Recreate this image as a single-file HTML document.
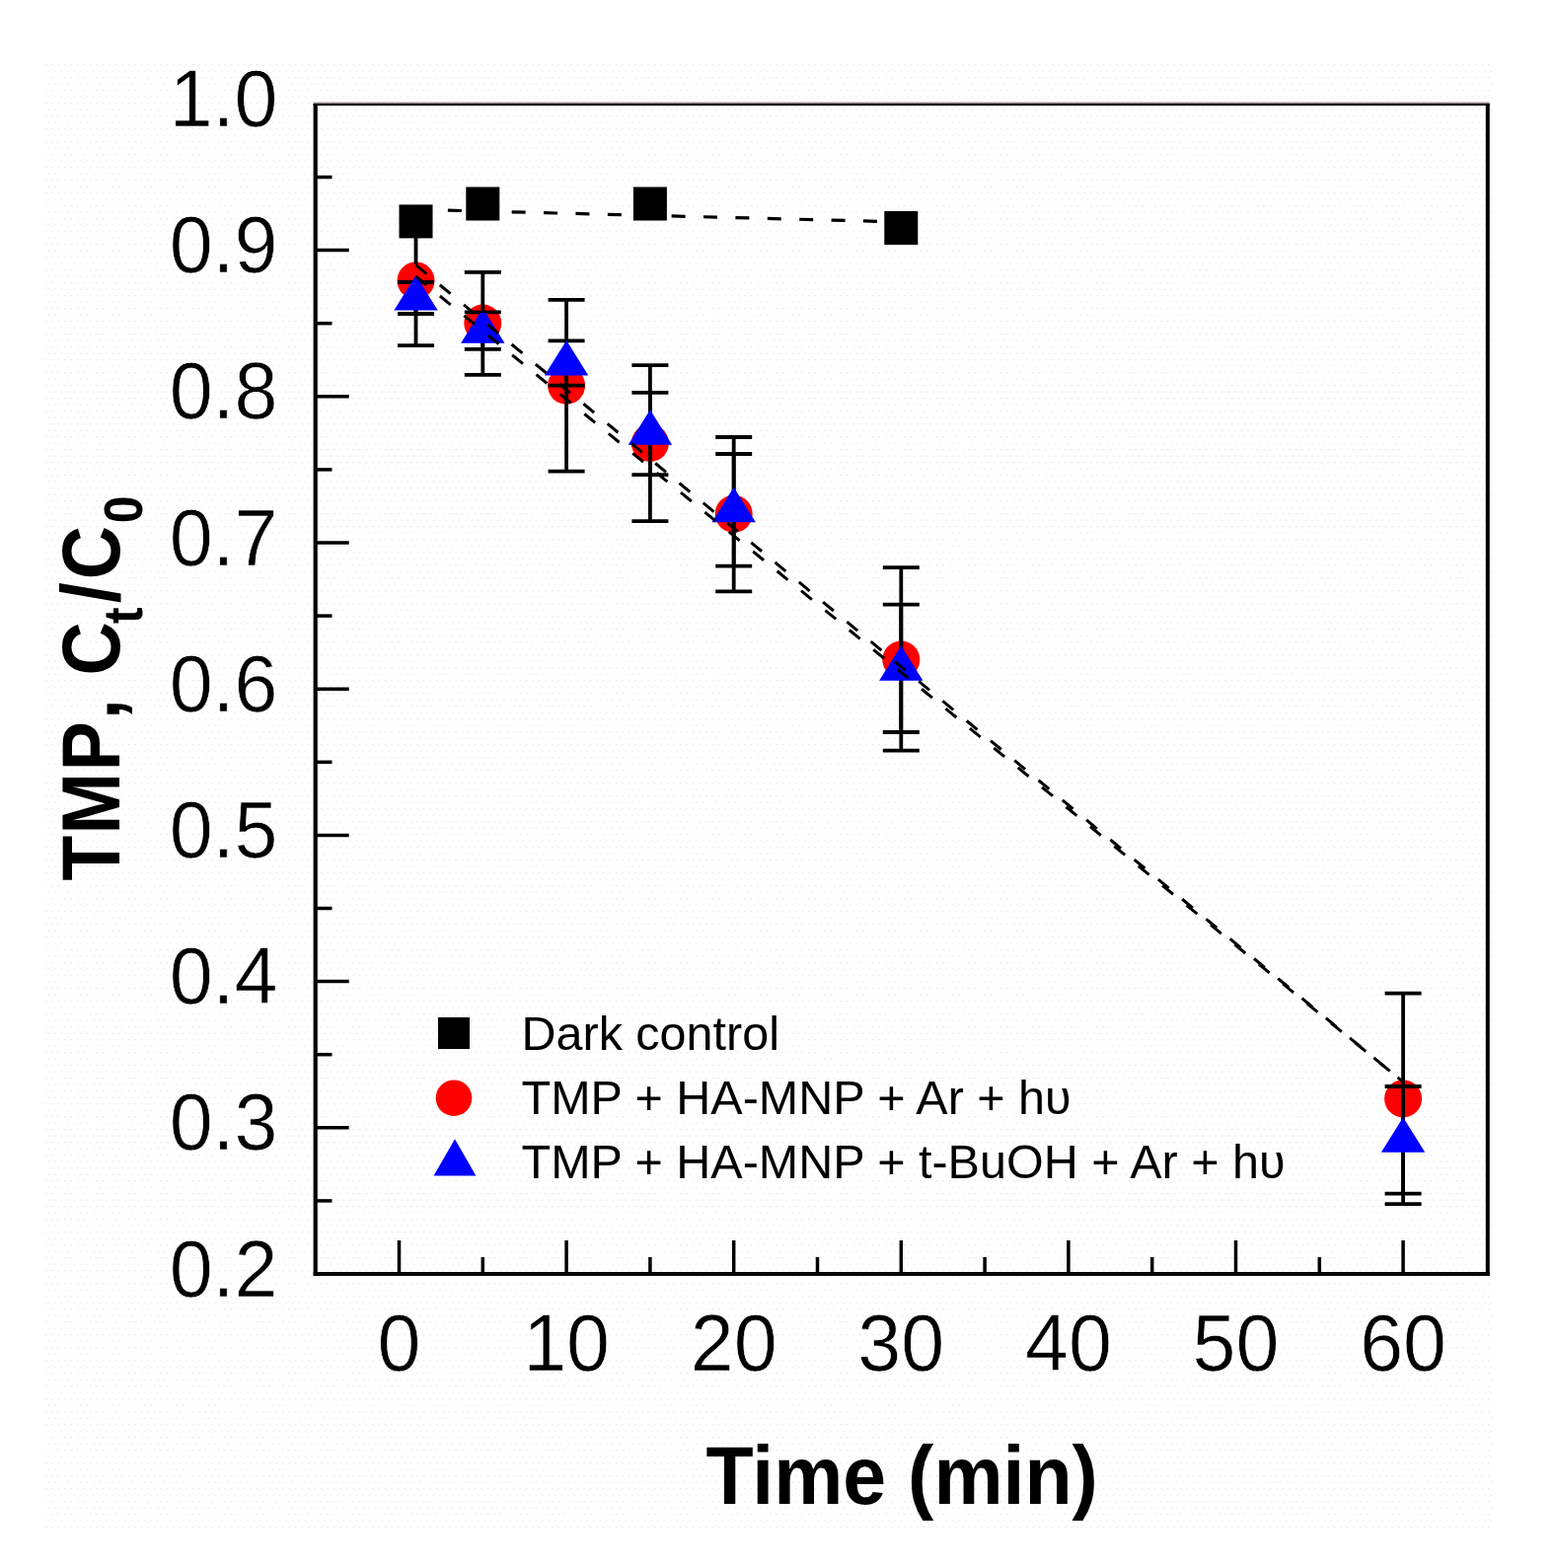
<!DOCTYPE html>
<html><head><meta charset="utf-8"><title>TMP degradation</title>
<style>
html,body{margin:0;padding:0;background:#fff;}
body{width:1574px;height:1589px;overflow:hidden;}
svg{display:block;}
.tk{font-family:"Liberation Sans",Arial,sans-serif;font-size:79px;fill:#000;stroke:#fff;stroke-width:0.7px;}
.ti{font-family:"Liberation Sans",Arial,sans-serif;font-size:80px;font-weight:bold;fill:#000;}
.lg{font-family:"Liberation Sans","DejaVu Sans",Arial,sans-serif;font-size:48.5px;fill:#000;}
</style></head>
<body>
<svg width="1574" height="1589" viewBox="0 0 1574 1589">
<defs>
<pattern id="dots" width="6.5" height="13" patternUnits="userSpaceOnUse">
<rect x="0" y="0" width="1.3" height="1.3" fill="#e6e6e6"/>
<rect x="3.25" y="6.5" width="1.3" height="1.3" fill="#e9e9e9"/>
</pattern>
<clipPath id="c5"><rect x="440" y="317" width="100" height="60"/></clipPath>
</defs>
<rect x="45" y="64" width="1469" height="1485" fill="url(#dots)"/>
<line x1="317.7" y1="104.2" x2="1509.7" y2="104.2" stroke="#968e8e" stroke-width="1.4"/>
<line x1="317.7" y1="106" x2="1509.7" y2="106" stroke="#000" stroke-width="2.2"/>
<line x1="319.7" y1="104.9" x2="319.7" y2="1292.9" stroke="#000" stroke-width="4.2"/>
<line x1="1507.8" y1="104.9" x2="1507.8" y2="1292.9" stroke="#000" stroke-width="4"/>
<line x1="317.7" y1="1290.9" x2="1509.8" y2="1290.9" stroke="#000" stroke-width="4"/>
<line x1="404.5" y1="1290" x2="404.5" y2="1257" stroke="#000" stroke-width="3.5"/>
<line x1="489.3" y1="1290" x2="489.3" y2="1274" stroke="#000" stroke-width="3.5"/>
<line x1="574.1" y1="1290" x2="574.1" y2="1257" stroke="#000" stroke-width="3.5"/>
<line x1="658.9" y1="1290" x2="658.9" y2="1274" stroke="#000" stroke-width="3.5"/>
<line x1="743.7" y1="1290" x2="743.7" y2="1257" stroke="#000" stroke-width="3.5"/>
<line x1="828.5" y1="1290" x2="828.5" y2="1274" stroke="#000" stroke-width="3.5"/>
<line x1="913.3" y1="1290" x2="913.3" y2="1257" stroke="#000" stroke-width="3.5"/>
<line x1="998.1" y1="1290" x2="998.1" y2="1274" stroke="#000" stroke-width="3.5"/>
<line x1="1082.9" y1="1290" x2="1082.9" y2="1257" stroke="#000" stroke-width="3.5"/>
<line x1="1167.7" y1="1290" x2="1167.7" y2="1274" stroke="#000" stroke-width="3.5"/>
<line x1="1252.5" y1="1290" x2="1252.5" y2="1257" stroke="#000" stroke-width="3.5"/>
<line x1="1337.3" y1="1290" x2="1337.3" y2="1274" stroke="#000" stroke-width="3.5"/>
<line x1="1422.1" y1="1290" x2="1422.1" y2="1257" stroke="#000" stroke-width="3.5"/>
<line x1="320" y1="1216.9" x2="336.5" y2="1216.9" stroke="#000" stroke-width="3.5"/>
<line x1="320" y1="1142.8" x2="353.7" y2="1142.8" stroke="#000" stroke-width="3.5"/>
<line x1="320" y1="1068.7" x2="336.5" y2="1068.7" stroke="#000" stroke-width="3.5"/>
<line x1="320" y1="994.6" x2="353.7" y2="994.6" stroke="#000" stroke-width="3.5"/>
<line x1="320" y1="920.5" x2="336.5" y2="920.5" stroke="#000" stroke-width="3.5"/>
<line x1="320" y1="846.4" x2="353.7" y2="846.4" stroke="#000" stroke-width="3.5"/>
<line x1="320" y1="772.3" x2="336.5" y2="772.3" stroke="#000" stroke-width="3.5"/>
<line x1="320" y1="698.2" x2="353.7" y2="698.2" stroke="#000" stroke-width="3.5"/>
<line x1="320" y1="624.1" x2="336.5" y2="624.1" stroke="#000" stroke-width="3.5"/>
<line x1="320" y1="550.0" x2="353.7" y2="550.0" stroke="#000" stroke-width="3.5"/>
<line x1="320" y1="475.9" x2="336.5" y2="475.9" stroke="#000" stroke-width="3.5"/>
<line x1="320" y1="401.8" x2="353.7" y2="401.8" stroke="#000" stroke-width="3.5"/>
<line x1="320" y1="327.7" x2="336.5" y2="327.7" stroke="#000" stroke-width="3.5"/>
<line x1="320" y1="253.6" x2="353.7" y2="253.6" stroke="#000" stroke-width="3.5"/>
<line x1="320" y1="179.5" x2="336.5" y2="179.5" stroke="#000" stroke-width="3.5"/>
<text transform="translate(404.5 1389) scale(1 1.03)" text-anchor="middle" class="tk">0</text>
<text transform="translate(574.1 1389) scale(1 1.03)" text-anchor="middle" class="tk">10</text>
<text transform="translate(743.7 1389) scale(1 1.03)" text-anchor="middle" class="tk">20</text>
<text transform="translate(913.3 1389) scale(1 1.03)" text-anchor="middle" class="tk">30</text>
<text transform="translate(1082.9 1389) scale(1 1.03)" text-anchor="middle" class="tk">40</text>
<text transform="translate(1252.5 1389) scale(1 1.03)" text-anchor="middle" class="tk">50</text>
<text transform="translate(1422.1 1389) scale(1 1.03)" text-anchor="middle" class="tk">60</text>
<text transform="translate(281.5 1313.6) scale(1 1.03)" text-anchor="end" class="tk">0.2</text>
<text transform="translate(281.5 1165.4) scale(1 1.03)" text-anchor="end" class="tk">0.3</text>
<text transform="translate(281.5 1017.2) scale(1 1.03)" text-anchor="end" class="tk">0.4</text>
<text transform="translate(281.5 869.0) scale(1 1.03)" text-anchor="end" class="tk">0.5</text>
<text transform="translate(281.5 720.8) scale(1 1.03)" text-anchor="end" class="tk">0.6</text>
<text transform="translate(281.5 572.6) scale(1 1.03)" text-anchor="end" class="tk">0.7</text>
<text transform="translate(281.5 424.4) scale(1 1.03)" text-anchor="end" class="tk">0.8</text>
<text transform="translate(281.5 276.2) scale(1 1.03)" text-anchor="end" class="tk">0.9</text>
<text transform="translate(281.5 128.0) scale(1 1.03)" text-anchor="end" class="tk">1.0</text>
<text transform="translate(914.2 1523.5) scale(0.986 1.045)" text-anchor="middle" class="ti">Time (min)</text>
<text transform="translate(121.2 892.5) rotate(-90) scale(0.94 1.04)" class="ti"><tspan x="0" y="0">T</tspan><tspan x="50" y="0">M</tspan><tspan x="118.3" y="0">P</tspan><tspan x="173.9" y="0">,</tspan><tspan x="221.4" y="0">C</tspan><tspan x="277" y="22" font-size="53">t</tspan><tspan x="299.3" y="0">/</tspan><tspan x="324.8" y="0">C</tspan><tspan x="385.3" y="22" font-size="53">0</tspan></text>
<rect x="404.5" y="207.4" width="34" height="34" fill="#000"/>
<rect x="472.3" y="189.5" width="34" height="34" fill="#000"/>
<rect x="641.9" y="189.5" width="34" height="34" fill="#000"/>
<rect x="896.3" y="214.0" width="34" height="34" fill="#000"/>
<circle cx="421.5" cy="284.4" r="19" fill="#ff0000"/>
<circle cx="489.3" cy="327.5" r="19" fill="#ff0000"/>
<circle cx="574.1" cy="390.7" r="19" fill="#ff0000"/>
<circle cx="658.9" cy="449" r="19" fill="#ff0000"/>
<circle cx="743.7" cy="520.8" r="19" fill="#ff0000"/>
<circle cx="913.3" cy="668.5" r="19" fill="#ff0000"/>
<circle cx="1422.1" cy="1113.4" r="19" fill="#ff0000"/>
<line x1="489.3" y1="275.9" x2="489.3" y2="379.9" stroke="#000" stroke-width="3.8"/><line x1="470.8" y1="275.9" x2="507.8" y2="275.9" stroke="#000" stroke-width="3.8"/><line x1="470.8" y1="379.9" x2="507.8" y2="379.9" stroke="#000" stroke-width="3.8"/>
<line x1="574.1" y1="303.8" x2="574.1" y2="477.6" stroke="#000" stroke-width="3.8"/><line x1="555.6" y1="303.8" x2="592.6" y2="303.8" stroke="#000" stroke-width="3.8"/><line x1="555.6" y1="477.6" x2="592.6" y2="477.6" stroke="#000" stroke-width="3.8"/>
<line x1="658.9" y1="370.2" x2="658.9" y2="528.2" stroke="#000" stroke-width="3.8"/><line x1="640.4" y1="370.2" x2="677.4" y2="370.2" stroke="#000" stroke-width="3.8"/><line x1="640.4" y1="528.2" x2="677.4" y2="528.2" stroke="#000" stroke-width="3.8"/>
<line x1="743.7" y1="443" x2="743.7" y2="599.3" stroke="#000" stroke-width="3.8"/><line x1="725.2" y1="443" x2="762.2" y2="443" stroke="#000" stroke-width="3.8"/><line x1="725.2" y1="599.3" x2="762.2" y2="599.3" stroke="#000" stroke-width="3.8"/>
<line x1="913.3" y1="575.2" x2="913.3" y2="760.7" stroke="#000" stroke-width="3.8"/><line x1="894.8" y1="575.2" x2="931.8" y2="575.2" stroke="#000" stroke-width="3.8"/><line x1="894.8" y1="760.7" x2="931.8" y2="760.7" stroke="#000" stroke-width="3.8"/>
<line x1="1422.1" y1="1006.6" x2="1422.1" y2="1220.2" stroke="#000" stroke-width="3.8"/><line x1="1403.6" y1="1006.6" x2="1440.6" y2="1006.6" stroke="#000" stroke-width="3.8"/><line x1="1403.6" y1="1220.2" x2="1440.6" y2="1220.2" stroke="#000" stroke-width="3.8"/>
<line x1="421.5" y1="240" x2="421.5" y2="268" stroke="#000" stroke-width="3.8"/>
<line x1="421.5" y1="300" x2="421.5" y2="350.2" stroke="#000" stroke-width="3.8"/>
<line x1="403.0" y1="350.2" x2="440.0" y2="350.2" stroke="#000" stroke-width="3.8"/>
<line x1="421.5" y1="286" x2="421.5" y2="318" stroke="#000" stroke-width="3.8"/><line x1="403.0" y1="286" x2="440.0" y2="286" stroke="#000" stroke-width="3.8"/><line x1="403.0" y1="318" x2="440.0" y2="318" stroke="#000" stroke-width="3.8"/>
<line x1="489.3" y1="316.4" x2="489.3" y2="353.9" stroke="#000" stroke-width="3.8"/><line x1="470.8" y1="316.4" x2="507.8" y2="316.4" stroke="#000" stroke-width="3.8"/><line x1="470.8" y1="353.9" x2="507.8" y2="353.9" stroke="#000" stroke-width="3.8"/>
<line x1="574.1" y1="345.4" x2="574.1" y2="390.7" stroke="#000" stroke-width="3.8"/><line x1="555.6" y1="345.4" x2="592.6" y2="345.4" stroke="#000" stroke-width="3.8"/><line x1="555.6" y1="390.7" x2="592.6" y2="390.7" stroke="#000" stroke-width="3.8"/>
<line x1="658.9" y1="397.9" x2="658.9" y2="481.2" stroke="#000" stroke-width="3.8"/><line x1="640.4" y1="397.9" x2="677.4" y2="397.9" stroke="#000" stroke-width="3.8"/><line x1="640.4" y1="481.2" x2="677.4" y2="481.2" stroke="#000" stroke-width="3.8"/>
<line x1="743.7" y1="460" x2="743.7" y2="573.6" stroke="#000" stroke-width="3.8"/><line x1="725.2" y1="460" x2="762.2" y2="460" stroke="#000" stroke-width="3.8"/><line x1="725.2" y1="573.6" x2="762.2" y2="573.6" stroke="#000" stroke-width="3.8"/>
<line x1="913.3" y1="612.6" x2="913.3" y2="742" stroke="#000" stroke-width="3.8"/><line x1="894.8" y1="612.6" x2="931.8" y2="612.6" stroke="#000" stroke-width="3.8"/><line x1="894.8" y1="742" x2="931.8" y2="742" stroke="#000" stroke-width="3.8"/>
<line x1="1422.1" y1="1101" x2="1422.1" y2="1209.6" stroke="#000" stroke-width="3.8"/><line x1="1403.6" y1="1101" x2="1440.6" y2="1101" stroke="#000" stroke-width="3.8"/><line x1="1403.6" y1="1209.6" x2="1440.6" y2="1209.6" stroke="#000" stroke-width="3.8"/>
<polygon points="421.5,279.0 443.7,314.5 399.3,314.5" fill="#0000ff"/>
<polygon points="489.3,312.2 511.5,347.7 467.1,347.7" fill="#0000ff" clip-path="url(#c5)"/>
<polygon points="574.1,345.0 596.3,380.5 551.9,380.5" fill="#0000ff"/>
<polygon points="658.9,415.2 681.1,450.7 636.7,450.7" fill="#0000ff"/>
<polygon points="743.7,493.8 765.9,529.3 721.5,529.3" fill="#0000ff"/>
<polygon points="913.3,654.3 935.5,689.8 891.1,689.8" fill="#0000ff"/>
<polygon points="1422.1,1132.3 1444.3,1167.8 1399.9,1167.8" fill="#0000ff"/>
<line x1="421.5" y1="268.7" x2="1422.1" y2="1096.5" stroke="#000" stroke-width="3" stroke-dasharray="14 17.5"/>
<line x1="421.5" y1="280.1" x2="1422.1" y2="1096.4" stroke="#000" stroke-width="3" stroke-dasharray="14 17.5"/>
<line x1="421.5" y1="212.3" x2="913.3" y2="224.9" stroke="#000" stroke-width="3.2" stroke-dasharray="14 18.4"/>
<rect x="444" y="1031" width="32" height="32" fill="#000"/>
<circle cx="460" cy="1112.7" r="18.3" fill="#ff0000"/>
<polygon points="461,1154.3 482.4,1191.4 439.6,1191.4" fill="#0000ff"/>
<text x="528.5" y="1063.5" class="lg">Dark control</text>
<text x="528.5" y="1128.5" class="lg">TMP + HA-MNP + Ar + hυ</text>
<text x="528.5" y="1194.3" class="lg">TMP + HA-MNP + t-BuOH + Ar + hυ</text>
</svg>
</body></html>
